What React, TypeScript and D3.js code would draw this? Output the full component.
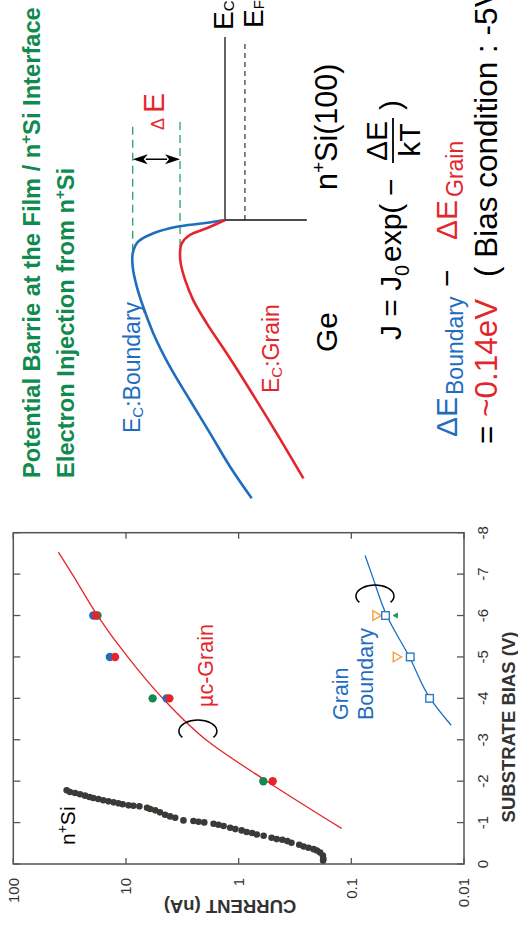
import React from 'react';
import * as d3 from 'd3';

// ---------- chart data (current vs substrate bias) ----------
const biasTicks = [0, -1, -2, -3, -4, -5, -6, -7, -8];
const currentTicks = [100, 10, 1, 0.1, 0.01];
const currentTickLabels = ['100', '10', '1', '0.1', '0.01'];

const nSiBias = [-1.78, -1.74, -1.715, -1.683, -1.651, -1.618, -1.594, -1.57, -1.538, -1.513, -1.489, -1.465, -1.441, -1.416, -1.408, -1.392, -1.36, -1.328, -1.295, -1.247, -1.191, -1.15, -1.118, -1.053, -1.037, -1.021, -1.005, -0.973, -0.948, -0.916, -0.876, -0.843, -0.811, -0.771, -0.747, -0.714, -0.682, -0.634, -0.601, -0.585, -0.553, -0.513, -0.464, -0.424, -0.392, -0.359, -0.327, -0.278, -0.206, -0.125, -0.085];
const nSiCurrent = [33.6, 31.4, 28.3, 25.6, 23.1, 21.1, 19.5, 17.6, 15.9, 14.3, 12.9, 11.7, 10.7, 9.5, 8.6, 7.6, 6.5, 6.1, 5.5, 5.0, 4.5, 4.06, 3.66, 3.09, 2.52, 2.27, 2.02, 1.67, 1.51, 1.36, 1.19, 1.07, 0.94, 0.85, 0.76, 0.69, 0.6, 0.51, 0.46, 0.41, 0.37, 0.34, 0.29, 0.265, 0.24, 0.216, 0.202, 0.189, 0.179, 0.177, 0.178];

const grainFitBias = [-0.86, -2, -3, -4, -5, -6, -7, -7.53];
const grainFitCurrent = [0.122, 0.563, 1.95, 4.72, 9.66, 17.9, 30.0, 39.8];
const boundaryFitBias = [-3.35, -4, -5, -6, -7, -7.45];
const boundaryFitCurrent = [0.013, 0.02, 0.0305, 0.0485, 0.066, 0.0755];

const grainBlueBias = [-4, -5, -6];
const grainBlueCurrent = [4.36, 13.9, 19.5];
const grainGreenBias = [-2, -4, -6];
const grainGreenCurrent = [0.604, 5.8, 17.9];
const grainRedBias = [-2, -4, -5, -6];
const grainRedCurrent = [0.499, 4.12, 12.5, 18.5];

const gbSquareBias = [-4, -5, -6];
const gbSquareCurrent = [0.0202, 0.03, 0.0497];
const gbOrangeBias = [-5, -6];
const gbOrangeCurrent = [0.0401, 0.0608];
const gbGreenBias = [-6];
const gbGreenCurrent = [0.0401];

const bracketBias = [-3.21, -6.47];
const bracketCurrent = [2.3, 0.0617];

// ---------- band diagram data (position nm, energy eV) ----------
const boundaryPos = [0, -1.18, -2.39, -4.75, -7.75, -11.9, -16.7, -23.8, -31.0, -40.5, -52.4, -64.3, -76.2, -88.1, -99.4];
const boundaryEnergy = [0, 0.064, 0.143, 0.212, 0.257, 0.273, 0.273, 0.261, 0.242, 0.212, 0.163, 0.104, 0.044, -0.015, -0.079];
const grainPos = [0, -2.96, -5.36, -8.32, -11.9, -15.5, -21.4, -28.6, -36.9, -47.6, -60.7, -76.2, -92.3];
const grainEnergy = [0, 0.054, 0.104, 0.128, 0.133, 0.131, 0.118, 0.094, 0.054, -0.005, -0.074, -0.153, -0.232];
const nSiEcPos = [0, 65.4];
const nSiEfPos = [0, 64.3];
const efEnergy = -0.059;
const interfaceEnergy = [0, -0.242];
const barrierLevels = [0.273, 0.133];
const barrierPos = [[-11.3, 34.5], [-14.3, 35.1]];
const arrowPos = 21.7;

const RED = '#e4262c';
const BLUE = '#1f6dbf';
const GREEN = '#108a4e';
const ORANGE = '#f5a03a';
const TXT = '#333';
const FONT = "'Liberation Sans', Arial, Helvetica, sans-serif";

export default function App() {
  const x = d3.scaleLinear().domain([0, -8]).range([69, 400.3]);
  const y = d3.scaleLog().domain([100, 0.01]).range([13.3, 464]);
  const [x0, x1] = x.range();
  const [y0, y1] = y.range();

  const fitLine = (bs: number[], cs: number[]) =>
    d3.line<number>().x((_, i) => x(bs[i])).y((_, i) => y(cs[i])).curve(d3.curveMonotoneX)(bs) || '';

  const bx = d3.scaleLinear().domain([-100, 80]).range([433, 937]);
  const be = d3.scaleLinear().domain([0, 0.3]).range([225, 123.6]);
  const bandLine = (ps: number[], es: number[]) =>
    d3.line<number>().x((_, i) => bx(ps[i])).y((_, i) => be(es[i])).curve(d3.curveCatmullRom)(ps) || '';

  const bracket = (cx: number, cy: number) => {
    const rx = 11, ry = 19;
    const a = (125 * Math.PI) / 180;
    const sx = cx + rx * Math.cos(-a), sy = cy + ry * Math.sin(-a);
    const ex = cx + rx * Math.cos(a), ey = cy + ry * Math.sin(a);
    return `M${sx},${sy} A${rx},${ry} 0 1 1 ${ex},${ey}`;
  };

  const triDown = d3.symbol().type(d3.symbolTriangle).size(40)() || '';
  const triUp = d3.symbol().type(d3.symbolTriangle).size(11)() || '';

  const ax = bx(arrowPos);
  const aTop = be(barrierLevels[0]);
  const aBot = be(barrierLevels[1]);
  const ah = 15, aw = 5;

  return (
    <svg width={518} height={933} style={{ position: 'absolute', left: 0, top: 0 }} fontFamily={FONT}>
      <rect width={518} height={933} fill="#fff" />
      <g transform="translate(0,933) rotate(-90)">
        {/* ---------- title ---------- */}
        <text x={455} y={40} fontSize={23.7} fontWeight="bold" fill={GREEN}>
          Potential Barrie at the Film / n<tspan dy={-9} fontSize={15}>+</tspan><tspan dy={9}>Si Interface</tspan>
        </text>
        <text x={455} y={73.5} fontSize={23.7} fontWeight="bold" fill={GREEN}>
          Electron Injection from n<tspan dy={-9} fontSize={15}>+</tspan><tspan dy={9}>Si</tspan>
        </text>

        {/* ---------- band diagram ---------- */}
        <line x1={bx(nSiEcPos[0])} x2={bx(nSiEcPos[1])} y1={be(0)} y2={be(0)} stroke="#111" strokeWidth={1.3} />
        <line x1={bx(nSiEfPos[0])} x2={bx(nSiEfPos[1])} y1={be(efEnergy)} y2={be(efEnergy)} stroke="#444" strokeWidth={1.3} strokeDasharray="5,4" />
        <line x1={bx(0)} x2={bx(0)} y1={be(interfaceEnergy[0])} y2={be(interfaceEnergy[1])} stroke="#111" strokeWidth={1.3} />
        {barrierLevels.map((lv, i) => (
          <line key={i} x1={bx(barrierPos[i][0])} x2={bx(barrierPos[i][1])} y1={be(lv)} y2={be(lv)} stroke="#1a9a55" strokeWidth={1.2} strokeDasharray="8,5" />
        ))}
        <line x1={ax} x2={ax} y1={aTop + ah - 2} y2={aBot - ah + 2} stroke="#000" strokeWidth={1.5} />
        <path d={`M${ax},${aTop} L${ax - aw},${aTop + ah} L${ax},${aTop + ah - 4} L${ax + aw},${aTop + ah} Z`} fill="#000" />
        <path d={`M${ax},${aBot} L${ax - aw},${aBot - ah} L${ax},${aBot - ah + 4} L${ax + aw},${aBot - ah} Z`} fill="#000" />
        <path d={bandLine(boundaryPos, boundaryEnergy)} fill="none" stroke={BLUE} strokeWidth={2.6} />
        <path d={bandLine(grainPos, grainEnergy)} fill="none" stroke={RED} strokeWidth={2.6} />

        <text y={164} fill={RED}>
          <tspan x={803} fontSize={18}>Δ</tspan>
          <tspan x={820} fontSize={30}>E</tspan>
        </text>
        <text x={903} y={233} fontSize={28} fill="#000">E<tspan fontSize={15} dy={1}>C</tspan></text>
        <text x={905} y={262.5} fontSize={28} fill="#000">E<tspan fontSize={15} dy={1}>F</tspan></text>

        <text x={500} y={140} fontSize={23} fill={BLUE}>E<tspan fontSize={15} dy={3}>C</tspan><tspan dy={-3}>:Boundary</tspan></text>
        <text x={540} y={278.5} fontSize={23} fill={RED}>E<tspan fontSize={15} dy={3}>C</tspan><tspan dy={-3}>:Grain</tspan></text>
        <text x={581} y={337} fontSize={30} fill="#000">Ge</text>
        <text x={743} y={337} fontSize={30.5} fill="#000">n<tspan dy={-12} fontSize={19}>+</tspan><tspan dy={12}>Si(100)</tspan></text>

        {/* equation */}
        <text x={593} y={401} fontSize={30} fill="#000">J = J</text>
        <text x={657} y={409} fontSize={20} fill="#000">0</text>
        <text x={671} y={401} fontSize={30} fill="#000">exp(</text>
        <text x={737} y={401} fontSize={30} fill="#000">−</text>
        <text x={792} y={387} fontSize={30} fill="#000" textAnchor="middle">ΔE</text>
        <line x1={770} x2={815} y1={393} y2={393} stroke="#000" strokeWidth={1.8} />
        <text x={793} y={420} fontSize={30} fill="#000" textAnchor="middle">kT</text>
        <text x={823} y={401} fontSize={30} fill="#000">)</text>

        <text x={496} y={457} fontSize={30} fill={BLUE}>ΔE</text>
        <text x={538} y={463} fontSize={23} fill={BLUE}>Boundary</text>
        <text x={646} y={457} fontSize={30} fill="#000">−</text>
        <text x={693} y={457} fontSize={30} fill={RED}>ΔE</text>
        <text x={736} y={463} fontSize={23} fill={RED}>Grain</text>

        <text x={489} y={497} fontSize={31.5} fill="#000">=</text>
        <text x={516} y={497} fontSize={31.5} fill={RED}>~0.14eV</text>
        <text x={656} y={497} fontSize={31.5} fill="#000">( Bias condition : -5V )</text>

        {/* ---------- I-V chart ---------- */}
        <rect x={x0} y={y0} width={x1 - x0} height={y1 - y0} fill="none" stroke="#555" strokeWidth={1.5} />
        {biasTicks.map((b) => (
          <g key={'bt' + b}>
            <line x1={x(b)} x2={x(b)} y1={y1} y2={y1 - 7} stroke="#555" strokeWidth={1.3} />
            <line x1={x(b)} x2={x(b)} y1={y0} y2={y0 + 7} stroke="#555" strokeWidth={1.3} />
            <text x={x(b)} y={488} fontSize={15} fill={TXT} textAnchor="middle">{b === 0 ? '0' : '-' + Math.abs(b)}</text>
          </g>
        ))}
        {currentTicks.map((c, i) => (
          <g key={'ct' + c}>
            <line x1={x0} x2={x0 + 6} y1={y(c)} y2={y(c)} stroke="#555" strokeWidth={1.3} />
            <line x1={x1} x2={x1 - 6} y1={y(c)} y2={y(c)} stroke="#555" strokeWidth={1.3} />
            <text x={55} y={y(c)} dy="0.35em" fontSize={15} fill={TXT} textAnchor="end">{currentTickLabels[i]}</text>
          </g>
        ))}
        <text x={206} y={515} fontSize={18.5} fontWeight="bold" fill={TXT} textAnchor="middle">SUBSTRATE BIAS (V)</text>
        <text transform="translate(33,230) rotate(-90)" fontSize={18.5} fontWeight="bold" fill={TXT} textAnchor="middle">CURRENT (nA)</text>

        {/* fits */}
        <path d={fitLine(grainFitBias, grainFitCurrent)} fill="none" stroke={RED} strokeWidth={1.3} />
        <path d={fitLine(boundaryFitBias, boundaryFitCurrent)} fill="none" stroke={BLUE} strokeWidth={1.3} />

        {/* n+Si data */}
        {nSiBias.map((b, i) => (
          <circle key={'n' + i} cx={x(b)} cy={y(nSiCurrent[i])} r={3.3} fill="#3a3a36" />
        ))}

        {/* grain data */}
        {grainBlueBias.map((b, i) => (
          <circle key={'gb' + i} cx={x(b)} cy={y(grainBlueCurrent[i])} r={4.2} fill="#1c6fc1" />
        ))}
        {grainGreenBias.map((b, i) => (
          <circle key={'gg' + i} cx={x(b)} cy={y(grainGreenCurrent[i])} r={4.2} fill={GREEN} />
        ))}
        {grainRedBias.map((b, i) => (
          <circle key={'gr' + i} cx={x(b)} cy={y(grainRedCurrent[i])} r={4.2} fill={RED} />
        ))}

        {/* grain boundary data */}
        {gbOrangeBias.map((b, i) => (
          <path key={'go' + i} d={triDown} transform={`translate(${x(b)},${y(gbOrangeCurrent[i])}) rotate(180)`} fill="#fff" stroke={ORANGE} strokeWidth={1.4} />
        ))}
        {gbSquareBias.map((b, i) => (
          <rect key={'gs' + i} x={x(b) - 3.8} y={y(gbSquareCurrent[i]) - 3.8} width={7.6} height={7.6} fill="#fff" stroke="#2b7bc8" strokeWidth={1.4} />
        ))}
        {gbGreenBias.map((b, i) => (
          <path key={'gg2' + i} d={triUp} transform={`translate(${x(b)},${y(gbGreenCurrent[i])})`} fill="#1a9a55" stroke="#1a9a55" strokeWidth={0.8} />
        ))}

        {/* brackets */}
        {bracketBias.map((b, i) => (
          <path key={'br' + i} d={bracket(x(b), y(bracketCurrent[i]))} fill="none" stroke="#000" strokeWidth={1.5} />
        ))}

        {/* labels */}
        <text x={88} y={75} fontSize={21} fill="#000">n<tspan dy={-8} fontSize={14}>+</tspan><tspan dy={8}>Si</tspan></text>
        <text x={226} y={213} fontSize={21.5} fill={RED}>µc-Grain</text>
        <text x={213} y={348} fontSize={21.5} fill={BLUE}>Grain</text>
        <text x={213} y={373} fontSize={21.5} fill={BLUE}>Boundary</text>
      </g>
    </svg>
  );
}
